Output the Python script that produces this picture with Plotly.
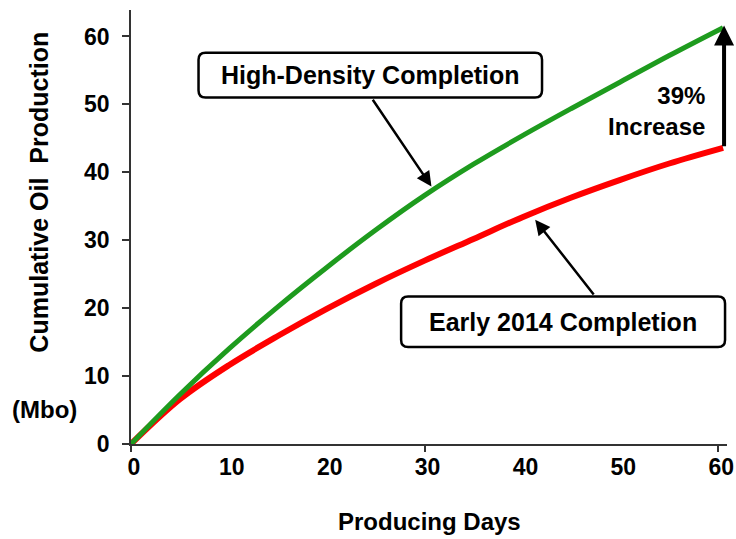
import plotly.graph_objects as go

days = [0, 5, 10, 15, 20, 25, 30, 35, 40, 45, 50, 55, 60.5]
high_density = [0, 7.3, 14.0, 20.2, 26.0, 31.5, 36.6, 41.2, 45.4, 49.4, 53.3, 57.2, 61.3]
early_2014 = [0, 6.6, 11.6, 15.9, 19.9, 23.6, 27.0, 30.2, 33.4, 36.3, 38.9, 41.3, 43.6]

x_ticks = [0, 10, 20, 30, 40, 50, 60]
x_major_ticks = [0, 30, 60]
y_ticks = [0, 10, 20, 30, 40, 50, 60]

FONT = "Liberation Sans, Arial, sans-serif"
GREEN = "#1e9b1e"
RED = "#ff0000"
AXC = "#333333"

fig = go.Figure()
fig.add_trace(go.Scatter(x=days, y=early_2014, mode="lines",
                         line=dict(color=RED, width=6, shape="spline"),
                         cliponaxis=False, showlegend=False))
fig.add_trace(go.Scatter(x=days, y=high_density, mode="lines",
                         line=dict(color=GREEN, width=5, shape="spline"),
                         cliponaxis=False, showlegend=False))
# invisible trace on overlay axis carrying the major x tick marks
fig.add_trace(go.Scatter(x=[0], y=[0], xaxis="x2", mode="markers",
                         marker=dict(opacity=0), showlegend=False, hoverinfo="skip"))

XR = [0, 60.9]
YR = [0, 63.9]
PX_X = 9.77
PX_Y = 6.8


def rounded_box(x0, x1, y0, y1, r=7):
    rx, ry = r / PX_X, r / PX_Y
    return (f"M {x0+rx},{y1} L {x1-rx},{y1} Q {x1},{y1} {x1},{y1-ry} "
            f"L {x1},{y0+ry} Q {x1},{y0} {x1-rx},{y0} L {x0+rx},{y0} "
            f"Q {x0},{y0} {x0},{y0+ry} L {x0},{y1-ry} Q {x0},{y1} {x0+rx},{y1} Z")


shapes = [
    dict(type="path", xref="x", yref="y", path=rounded_box(6.9, 42.0, 51.0, 57.6),
         line=dict(color="black", width=2.5), fillcolor="white", layer="above"),
    dict(type="path", xref="x", yref="y", path=rounded_box(27.6, 60.7, 14.3, 21.7),
         line=dict(color="black", width=2.5), fillcolor="white", layer="above"),
]

BOLD = dict(family=FONT, color="black", weight="bold")

annotations = [
    dict(x=24.45, y=54.4, xref="x", yref="y", text="High-Density Completion",
         showarrow=False, font=dict(BOLD, size=25)),
    dict(x=44.15, y=18.0, xref="x", yref="y", text="Early 2014 Completion",
         showarrow=False, font=dict(BOLD, size=25)),
    # arrows
    dict(x=30.7, y=37.9, ax=24.6, ay=50.9, xref="x", yref="y", axref="x", ayref="y",
         text="", showarrow=True, arrowhead=2, arrowsize=1.2, arrowwidth=2.5, arrowcolor="black"),
    dict(x=41.3, y=33.0, ax=47.4, ay=21.8, xref="x", yref="y", axref="x", ayref="y",
         text="", showarrow=True, arrowhead=2, arrowsize=1.2, arrowwidth=2.5, arrowcolor="black"),
    dict(x=60.6, y=61.6, ax=60.6, ay=43.6, xref="x", yref="y", axref="x", ayref="y",
         text="", showarrow=True, arrowhead=2, arrowsize=1.0, arrowwidth=4, arrowcolor="black"),
    dict(x=58.9, y=49.0, xref="x", yref="y", text="39%<br>Increase", align="right",
         xanchor="right", yanchor="middle", showarrow=False, font=dict(BOLD, size=24)),
]

# horizontal compensation for the photographed page width
SX = 744 / 736
W, H = 744, 539
L, R, T = 130 * SX, W - 725 * SX, 10
B = H - 444.5
pw, ph = W - L - R, H - T - B


def px(xr, yr):
    return (xr * SX - L) / pw, (H - B - yr) / ph


for text, xr, yr, size, angle in [
    ("Cumulative Oil  Production", 38, 192, 25, -90),
    ("Producing Days", 428, 522, 24, 0),
    ("(Mbo)", 44, 410, 24, 0),
]:
    xp, yp = px(xr, yr)
    annotations.append(dict(x=xp, y=yp, xref="paper", yref="paper", text=text,
                            xanchor="center", yanchor="middle",
                            textangle=angle, showarrow=False, font=dict(BOLD, size=size)))

fig.update_layout(
    width=W, height=H,
    margin=dict(l=L, r=R, t=T, b=B, pad=0),
    plot_bgcolor="white", paper_bgcolor="white",
    shapes=shapes, annotations=annotations,
    xaxis=dict(range=XR, tickvals=x_ticks, ticks="", showgrid=False, zeroline=False,
               showline=True, linecolor=AXC, linewidth=1.5,
               tickfont=dict(BOLD, size=23), ticklabelstandoff=2, ticklabelshift=3,
               ticklabeloverflow="allow"),
    xaxis2=dict(range=XR, overlaying="x", side="bottom", tickvals=x_major_ticks,
                ticks="outside", ticklen=7, tickwidth=1.5, tickcolor=AXC,
                showticklabels=False, showgrid=False, zeroline=False, showline=False),
    yaxis=dict(range=YR, tickvals=y_ticks, ticks="outside", ticklen=7, tickwidth=1.5,
               tickcolor=AXC, showgrid=False, zeroline=False,
               showline=True, linecolor=AXC, linewidth=1.5,
               tickfont=dict(BOLD, size=23), ticklabelstandoff=8),
)

fig.write_html("out.html", config={"displayModeBar": False},
               post_script="document.body.style.margin='0';document.body.style.overflow='hidden';")
